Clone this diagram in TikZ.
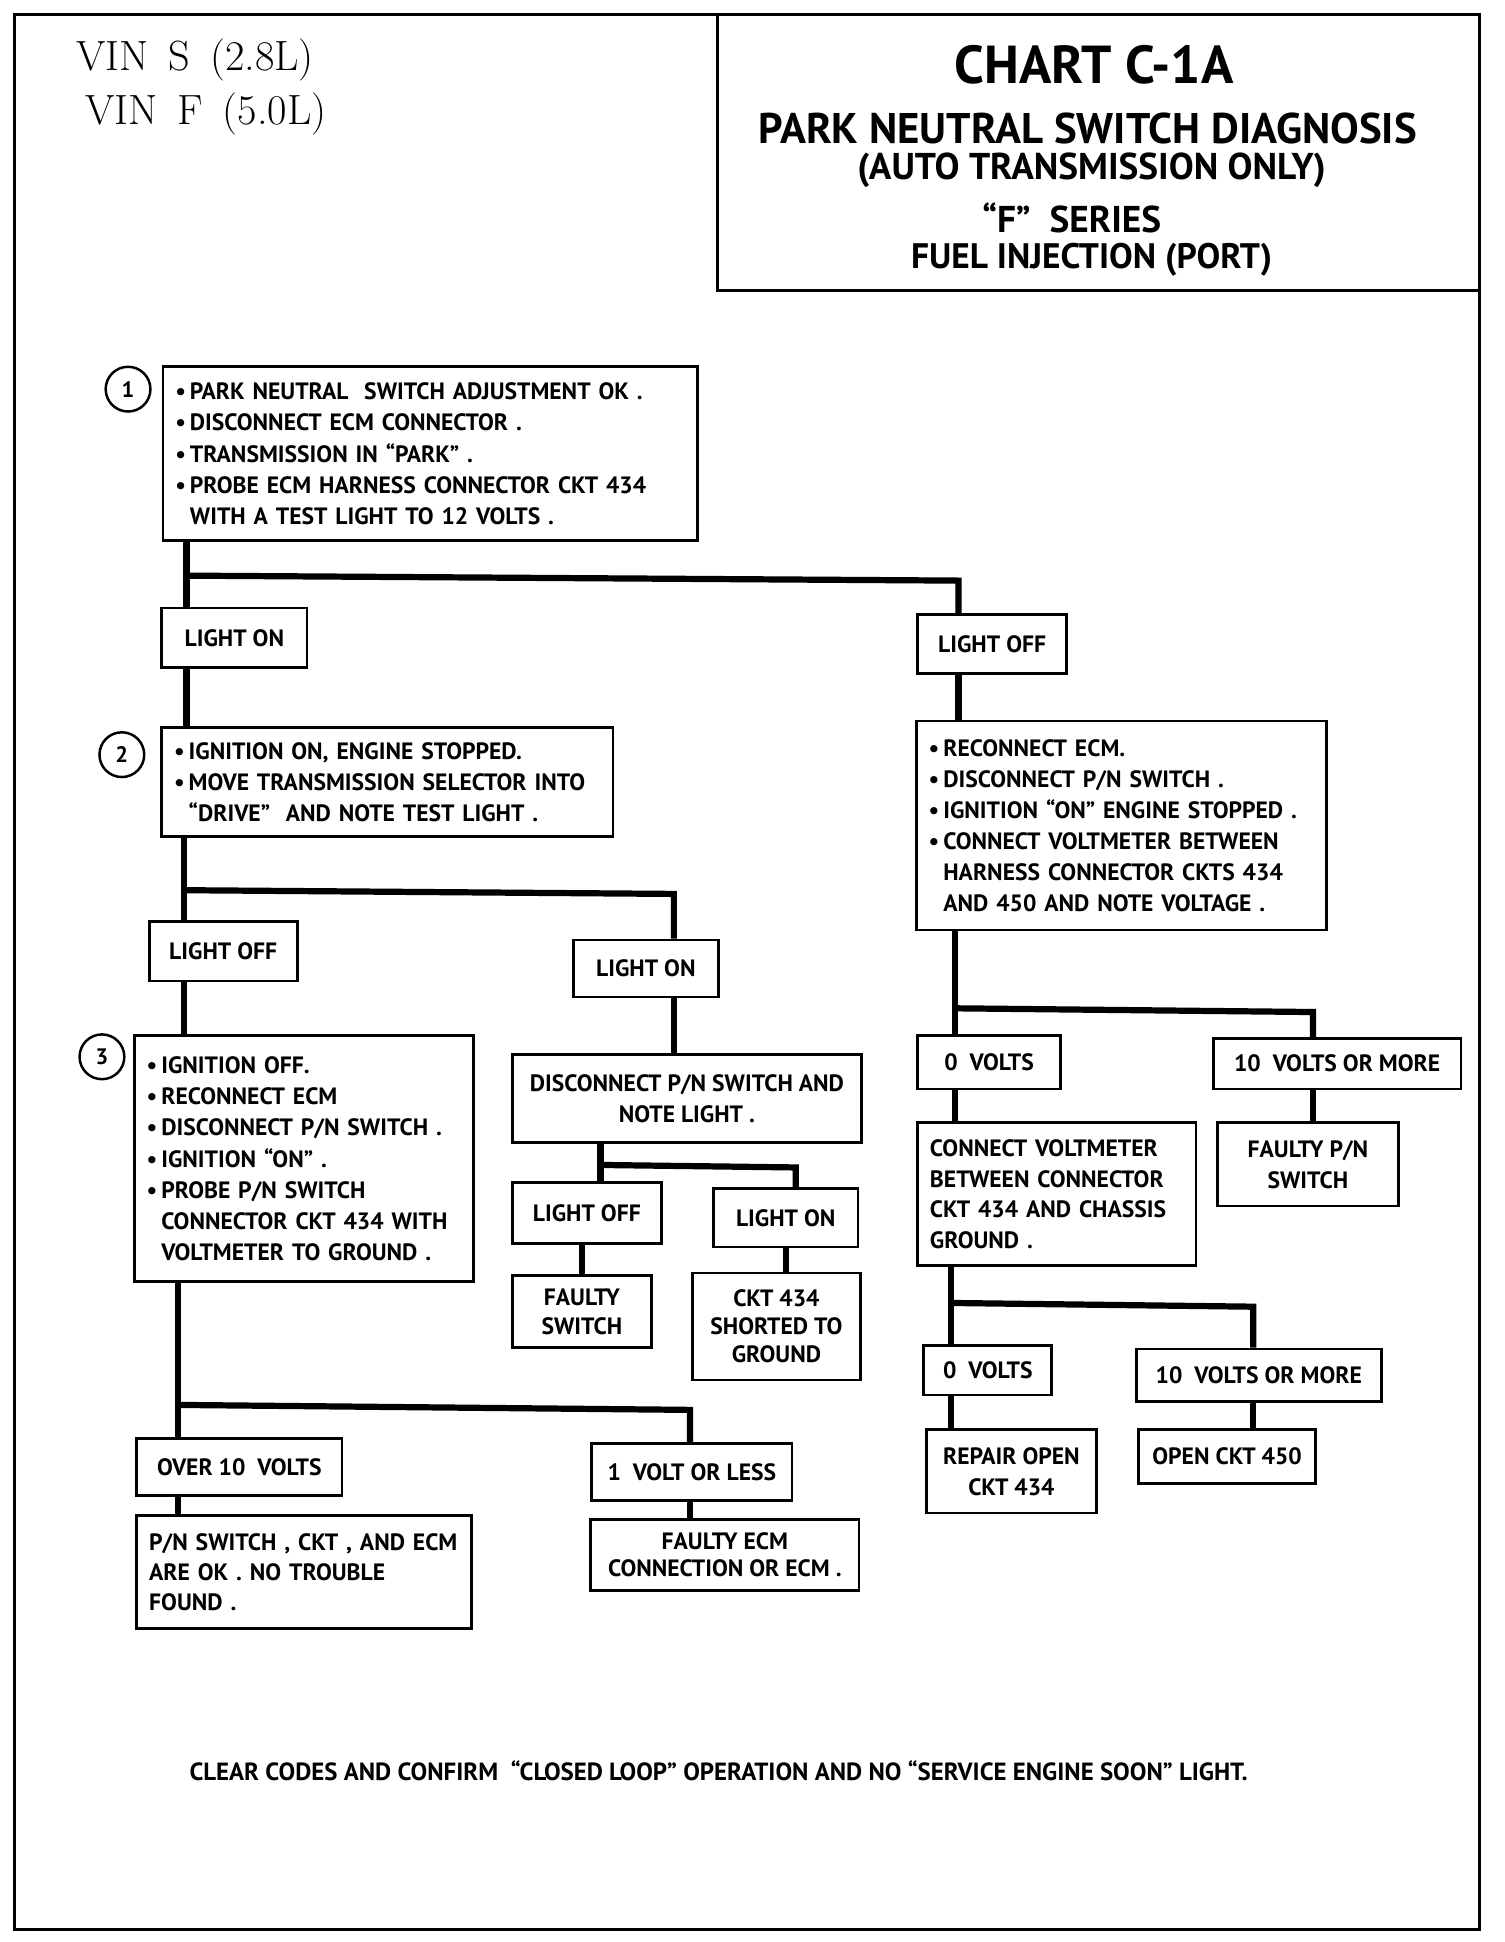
\documentclass[tikz,border=0pt]{standalone}
\usepackage{fontspec}
\newfontfamily\chartfont{PT Sans}
\usetikzlibrary{positioning,calc}

\newcommand{\blt}{\textbullet\,}
\newcommand{\ind}{\phantom{\textbullet\,}}

\tikzset{
  frame/.style={line width=2.4pt},
  box/.style={draw, line width=2.2pt, inner xsep=10pt, inner ysep=0pt,
    font=\chartfont\bfseries\fontsize{19}{25}\selectfont},
  leftbox/.style={box, align=left},
  midbox/.style={box, align=center},
  wire/.style={line width=5pt},
  num/.style={draw, circle, line width=2pt, minimum size=36pt, inner sep=0pt,
    font=\chartfont\bfseries\fontsize{18}{18}\selectfont},
  title/.style={font=\chartfont\bfseries, inner sep=0pt},
}

\begin{document}
\begin{tikzpicture}[x=1pt,y=-1pt]
    \useasboundingbox (0,0) rectangle (1210,1562);

    % page frame and title block
    \draw[frame] (12,12) rectangle (1190,1552);
    \draw[frame] (577,12) -- (577,234) -- (1190,234);
    \node[anchor=west, font=\fontsize{34}{34}\selectfont] (vins) at (58,48) {VIN\, S\, (2.8L)};
    \node[anchor=west, font=\fontsize{34}{34}\selectfont] (vinf) at (65,92) {VIN\, F\, (5.0L)};
    \node[title, font=\chartfont\bfseries\fontsize{43}{43}\selectfont] (chart) at (880,52) {CHART C-1A};
    \node[title, font=\chartfont\bfseries\fontsize{34.5}{34.5}\selectfont] (name) at (875,103) {PARK NEUTRAL SWITCH DIAGNOSIS};
    \node[title, font=\chartfont\bfseries\fontsize{30}{30}\selectfont] (auto) at (878,137) {(AUTO TRANSMISSION ONLY)};
    \node[title, font=\chartfont\bfseries\fontsize{30}{30}\selectfont] (series) at (862,175) {“F”\ \ SERIES};
    \node[title, font=\chartfont\bfseries\fontsize{28.5}{28.5}\selectfont] (fuel) at (878,209) {FUEL INJECTION (PORT)};

    % step 1
    \node[num] (c1) at (103,313) {1};
    \node[leftbox, text width=410pt, minimum height=140pt] (s1) at (346,365)
        {\blt PARK NEUTRAL\ \ SWITCH ADJUSTMENT OK .\\
         \blt DISCONNECT ECM CONNECTOR .\\
         \blt TRANSMISSION IN “PARK” .\\
         \blt PROBE ECM HARNESS CONNECTOR CKT 434\\
         \ind WITH A TEST LIGHT TO 12 VOLTS .};
    \node[midbox, minimum width=117pt, minimum height=48pt] (lon1) at (188.5,513) {LIGHT ON};
    \node[midbox, minimum width=120pt, minimum height=48pt] (loff1) at (798,518) {LIGHT OFF};

    % step 2
    \node[num] (c2) at (98,607) {2};
    \node[leftbox, text width=343pt, minimum height=88pt] (s2) at (311.5,629)
        {\blt IGNITION ON, ENGINE STOPPED.\\
         \blt MOVE TRANSMISSION SELECTOR INTO\\
         \ind “DRIVE”\ \ AND NOTE TEST LIGHT .};
    \node[midbox, minimum width=119pt, minimum height=48pt] (loff2) at (179.5,765) {LIGHT OFF};
    \node[midbox, minimum width=117pt, minimum height=46pt] (lon2) at (519.5,779) {LIGHT ON};

    % step 3
    \node[num] (c3) at (82,850) {3};
    \node[leftbox, text width=253pt, minimum height=198pt] (s3) at (244.5,932)
        {\blt IGNITION OFF.\\
         \blt RECONNECT ECM\\
         \blt DISCONNECT P/N SWITCH .\\
         \blt IGNITION “ON” .\\
         \blt PROBE P/N SWITCH\\
         \ind CONNECTOR CKT 434 WITH\\
         \ind VOLTMETER TO GROUND .};
    \node[midbox, minimum width=165pt, minimum height=46pt] (over10) at (192.5,1180) {OVER 10\ \ VOLTS};
    \node[leftbox, text width=249pt, minimum height=91pt, font=\chartfont\bfseries\fontsize{19}{24}\selectfont] (pnok) at (244.5,1264.5)
        {P/N SWITCH , CKT , AND ECM\\
         ARE OK . NO TROUBLE\\
         FOUND .};
    \node[midbox, minimum width=161pt, minimum height=46pt] (le1) at (556.5,1184) {1\ \ VOLT OR LESS};
    \node[midbox, minimum width=216pt, minimum height=57pt, font=\chartfont\bfseries\fontsize{19}{21}\selectfont] (fecm) at (583,1250.5)
        {FAULTY ECM\\CONNECTION OR ECM .};

    % light on in drive
    \node[midbox, minimum width=281pt, minimum height=71pt] (discon) at (552.5,883.5)
        {DISCONNECT P/N SWITCH AND\\NOTE LIGHT .};
    \node[midbox, minimum width=120pt, minimum height=49pt] (loff3) at (472,975.5) {LIGHT OFF};
    \node[midbox, minimum width=116pt, minimum height=47pt] (lon3) at (632,979.5) {LIGHT ON};
    \node[midbox, minimum width=112pt, minimum height=58pt, font=\chartfont\bfseries\fontsize{19}{23}\selectfont] (fsw) at (468,1055)
        {FAULTY\\SWITCH};
    \node[midbox, minimum width=135pt, minimum height=86pt, font=\chartfont\bfseries\fontsize{19}{22.5}\selectfont] (short) at (624.5,1067)
        {CKT 434\\SHORTED TO\\GROUND};

    % light off in park
    \node[leftbox, text width=310pt, minimum height=168pt] (r1) at (902,664)
        {\blt RECONNECT ECM.\\
         \blt DISCONNECT P/N SWITCH .\\
         \blt IGNITION “ON” ENGINE STOPPED .\\
         \blt CONNECT VOLTMETER BETWEEN\\
         \ind HARNESS CONNECTOR CKTS 434\\
         \ind AND 450 AND NOTE VOLTAGE .};
    \node[midbox, minimum width=115pt, minimum height=43pt] (v0a) at (795.5,854.5) {0\ \ VOLTS};
    \node[midbox, minimum width=199pt, minimum height=41pt] (v10a) at (1075.5,855.5) {10\ \ VOLTS OR MORE};
    \node[midbox, minimum width=146pt, minimum height=67pt] (fpn) at (1052,936.5) {FAULTY P/N\\SWITCH};
    \node[leftbox, text width=204pt, minimum height=115pt, font=\chartfont\bfseries\fontsize{19}{24.7}\selectfont] (conn) at (850,960.5)
        {CONNECT VOLTMETER\\
         BETWEEN CONNECTOR\\
         CKT 434 AND CHASSIS\\
         GROUND .};
    \node[midbox, minimum width=103pt, minimum height=40pt] (v0b) at (794.5,1102) {0\ \ VOLTS};
    \node[midbox, minimum width=197pt, minimum height=42pt] (v10b) at (1012.5,1106) {10\ \ VOLTS OR MORE};
    \node[midbox, minimum width=137pt, minimum height=67pt] (rep) at (813.5,1183.5) {REPAIR OPEN\\CKT 434};
    \node[midbox, minimum width=142pt, minimum height=43pt] (o450) at (987,1171.5) {OPEN CKT 450};

    % footer
    \node[font=\chartfont\bfseries\fontsize{20}{20}\selectfont, inner sep=0pt] (note) at (578,1424)
        {CLEAR CODES AND CONFIRM\ \ “CLOSED LOOP” OPERATION AND NO “SERVICE ENGINE SOON” LIGHT.};

    % branch points
    \coordinate (j1) at (150,463);  \coordinate (j1r) at (771,467);
    \coordinate (j2) at (148,716);  \coordinate (j2r) at (542,719);
    \coordinate (j3) at (143,1130); \coordinate (j3r) at (555,1134);
    \coordinate (j4) at (483,937);  \coordinate (j4r) at (640,939);
    \coordinate (j5) at (768,811);  \coordinate (j5r) at (1056,814);
    \coordinate (j6) at (765,1048); \coordinate (j6r) at (1008,1051);

    % step 1 branches
    \draw[wire] (s1.south -| j1) -- (lon1.north -| j1);
    \draw[wire] (j1) -- (j1r) -- (loff1.north -| j1r);
    \draw[wire] (lon1.south -| j1) -- (s2.north -| j1);
    \draw[wire] (loff1.south -| j1r) -- (r1.north -| j1r);

    % step 2 branches
    \draw[wire] (s2.south -| j2) -- (loff2.north -| j2);
    \draw[wire] (j2) -- (j2r) -- (lon2.north -| j2r);
    \draw[wire] (loff2.south -| j2) -- (s3.north -| j2);
    \draw[wire] (lon2.south -| j2r) -- (discon.north -| j2r);

    % disconnect branches
    \draw[wire] (discon.south -| j4) -- (loff3.north -| j4);
    \draw[wire] (j4) -- (j4r) -- (lon3.north -| j4r);
    \draw[wire] (loff3.south -| fsw) -- (fsw.north);
    \draw[wire] (lon3.south) -- (lon3.south |- short.north);

    % step 3 branches
    \draw[wire] (s3.south -| j3) -- (over10.north -| j3);
    \draw[wire] (j3) -- (j3r) -- (le1.north -| j3r);
    \draw[wire] (over10.south -| j3) -- (pnok.north -| j3);
    \draw[wire] (le1.south -| j3r) -- (fecm.north -| j3r);

    % voltage branches
    \draw[wire] (r1.south -| j5) -- (v0a.north -| j5);
    \draw[wire] (j5) -- (j5r) -- (v10a.north -| j5r);
    \draw[wire] (v0a.south -| j5) -- (conn.north -| j5);
    \draw[wire] (v10a.south -| j5r) -- (fpn.north -| j5r);
    \draw[wire] (conn.south -| j6) -- (v0b.north -| j6);
    \draw[wire] (j6) -- (j6r) -- (v10b.north -| j6r);
    \draw[wire] (v0b.south -| j6) -- (rep.north -| j6);
    \draw[wire] (v10b.south -| j6r) -- (o450.north -| j6r);
\end{tikzpicture}
\end{document}
